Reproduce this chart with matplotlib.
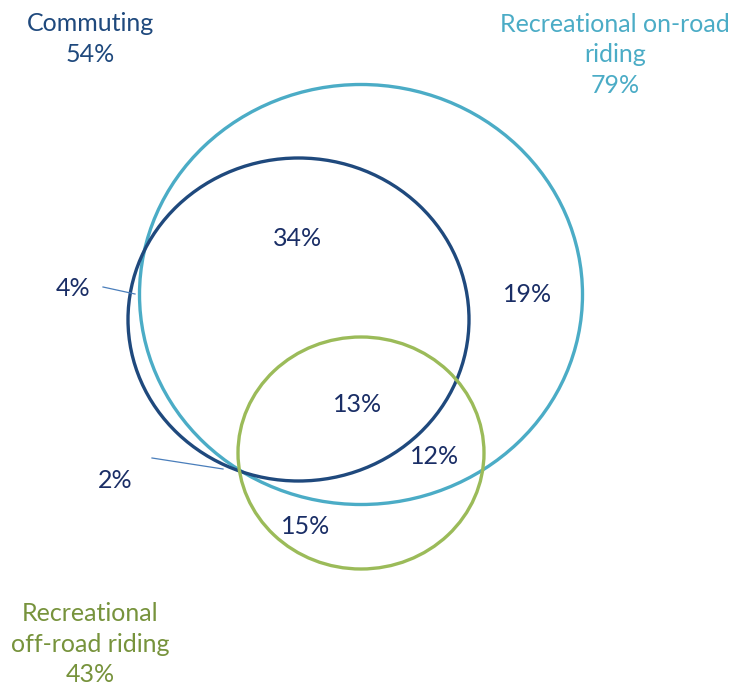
import matplotlib.pyplot as plt
from matplotlib.patches import Ellipse

# group totals and region shares
groups = ["Commuting", "Recreational on-road\nriding", "Recreational\noff-road riding"]
group_pct = [54, 79, 43]
region_pct = [34, 19, 4, 13, 12, 2, 15]

DARK = "#1f497d"
LIGHT = "#4bacc6"
GREEN = "#9bbb59"
NAVY = "#1a2e66"

plt.rcParams['font.family'] = ['Lato', 'DejaVu Sans']

fig = plt.figure(figsize=(7.33, 6.86), dpi=100)
ax = fig.add_axes([0, 0, 1, 1])
ax.set_xlim(0, 733)
ax.set_ylim(686, 0)
ax.axis('off')

# circles: on-road, commuting, off-road
ax.add_patch(Ellipse((361, 294.5), 443, 420, fill=False, ec=LIGHT, lw=2.4))
ax.add_patch(Ellipse((298.5, 319.5), 341, 323, fill=False, ec=DARK, lw=2.4))
ax.add_patch(Ellipse((361, 453), 246, 232, fill=False, ec=GREEN, lw=2.4))

fs = 18
ax.text(90, 39, f"{groups[0]}\n{group_pct[0]}%", color=DARK, fontsize=fs,
        ha='center', va='center', linespacing=1.38)
ax.text(615, 55, f"{groups[1]}\n{group_pct[1]}%", color=LIGHT, fontsize=fs,
        ha='center', va='center', linespacing=1.38)
ax.text(90, 644, f"{groups[2]}\n{group_pct[2]}%", color="#77933c", fontsize=fs,
        ha='center', va='center', linespacing=1.38)

spots = [(298, 239), (528, 294), (73, 289), (358, 405), (435, 456), (115, 481), (306, 527)]
for (x, y), v in zip(spots, region_pct):
    ax.text(x, y, f"{v}%", color=NAVY, fontsize=fs, ha='center', va='center')

# leader lines for the thin slivers
ax.plot([103, 135], [287, 294], color="#4a7ebb", lw=0.9)
ax.plot([152, 223], [458, 469], color="#4a7ebb", lw=0.9)

fig.savefig("out.png", dpi=100)
